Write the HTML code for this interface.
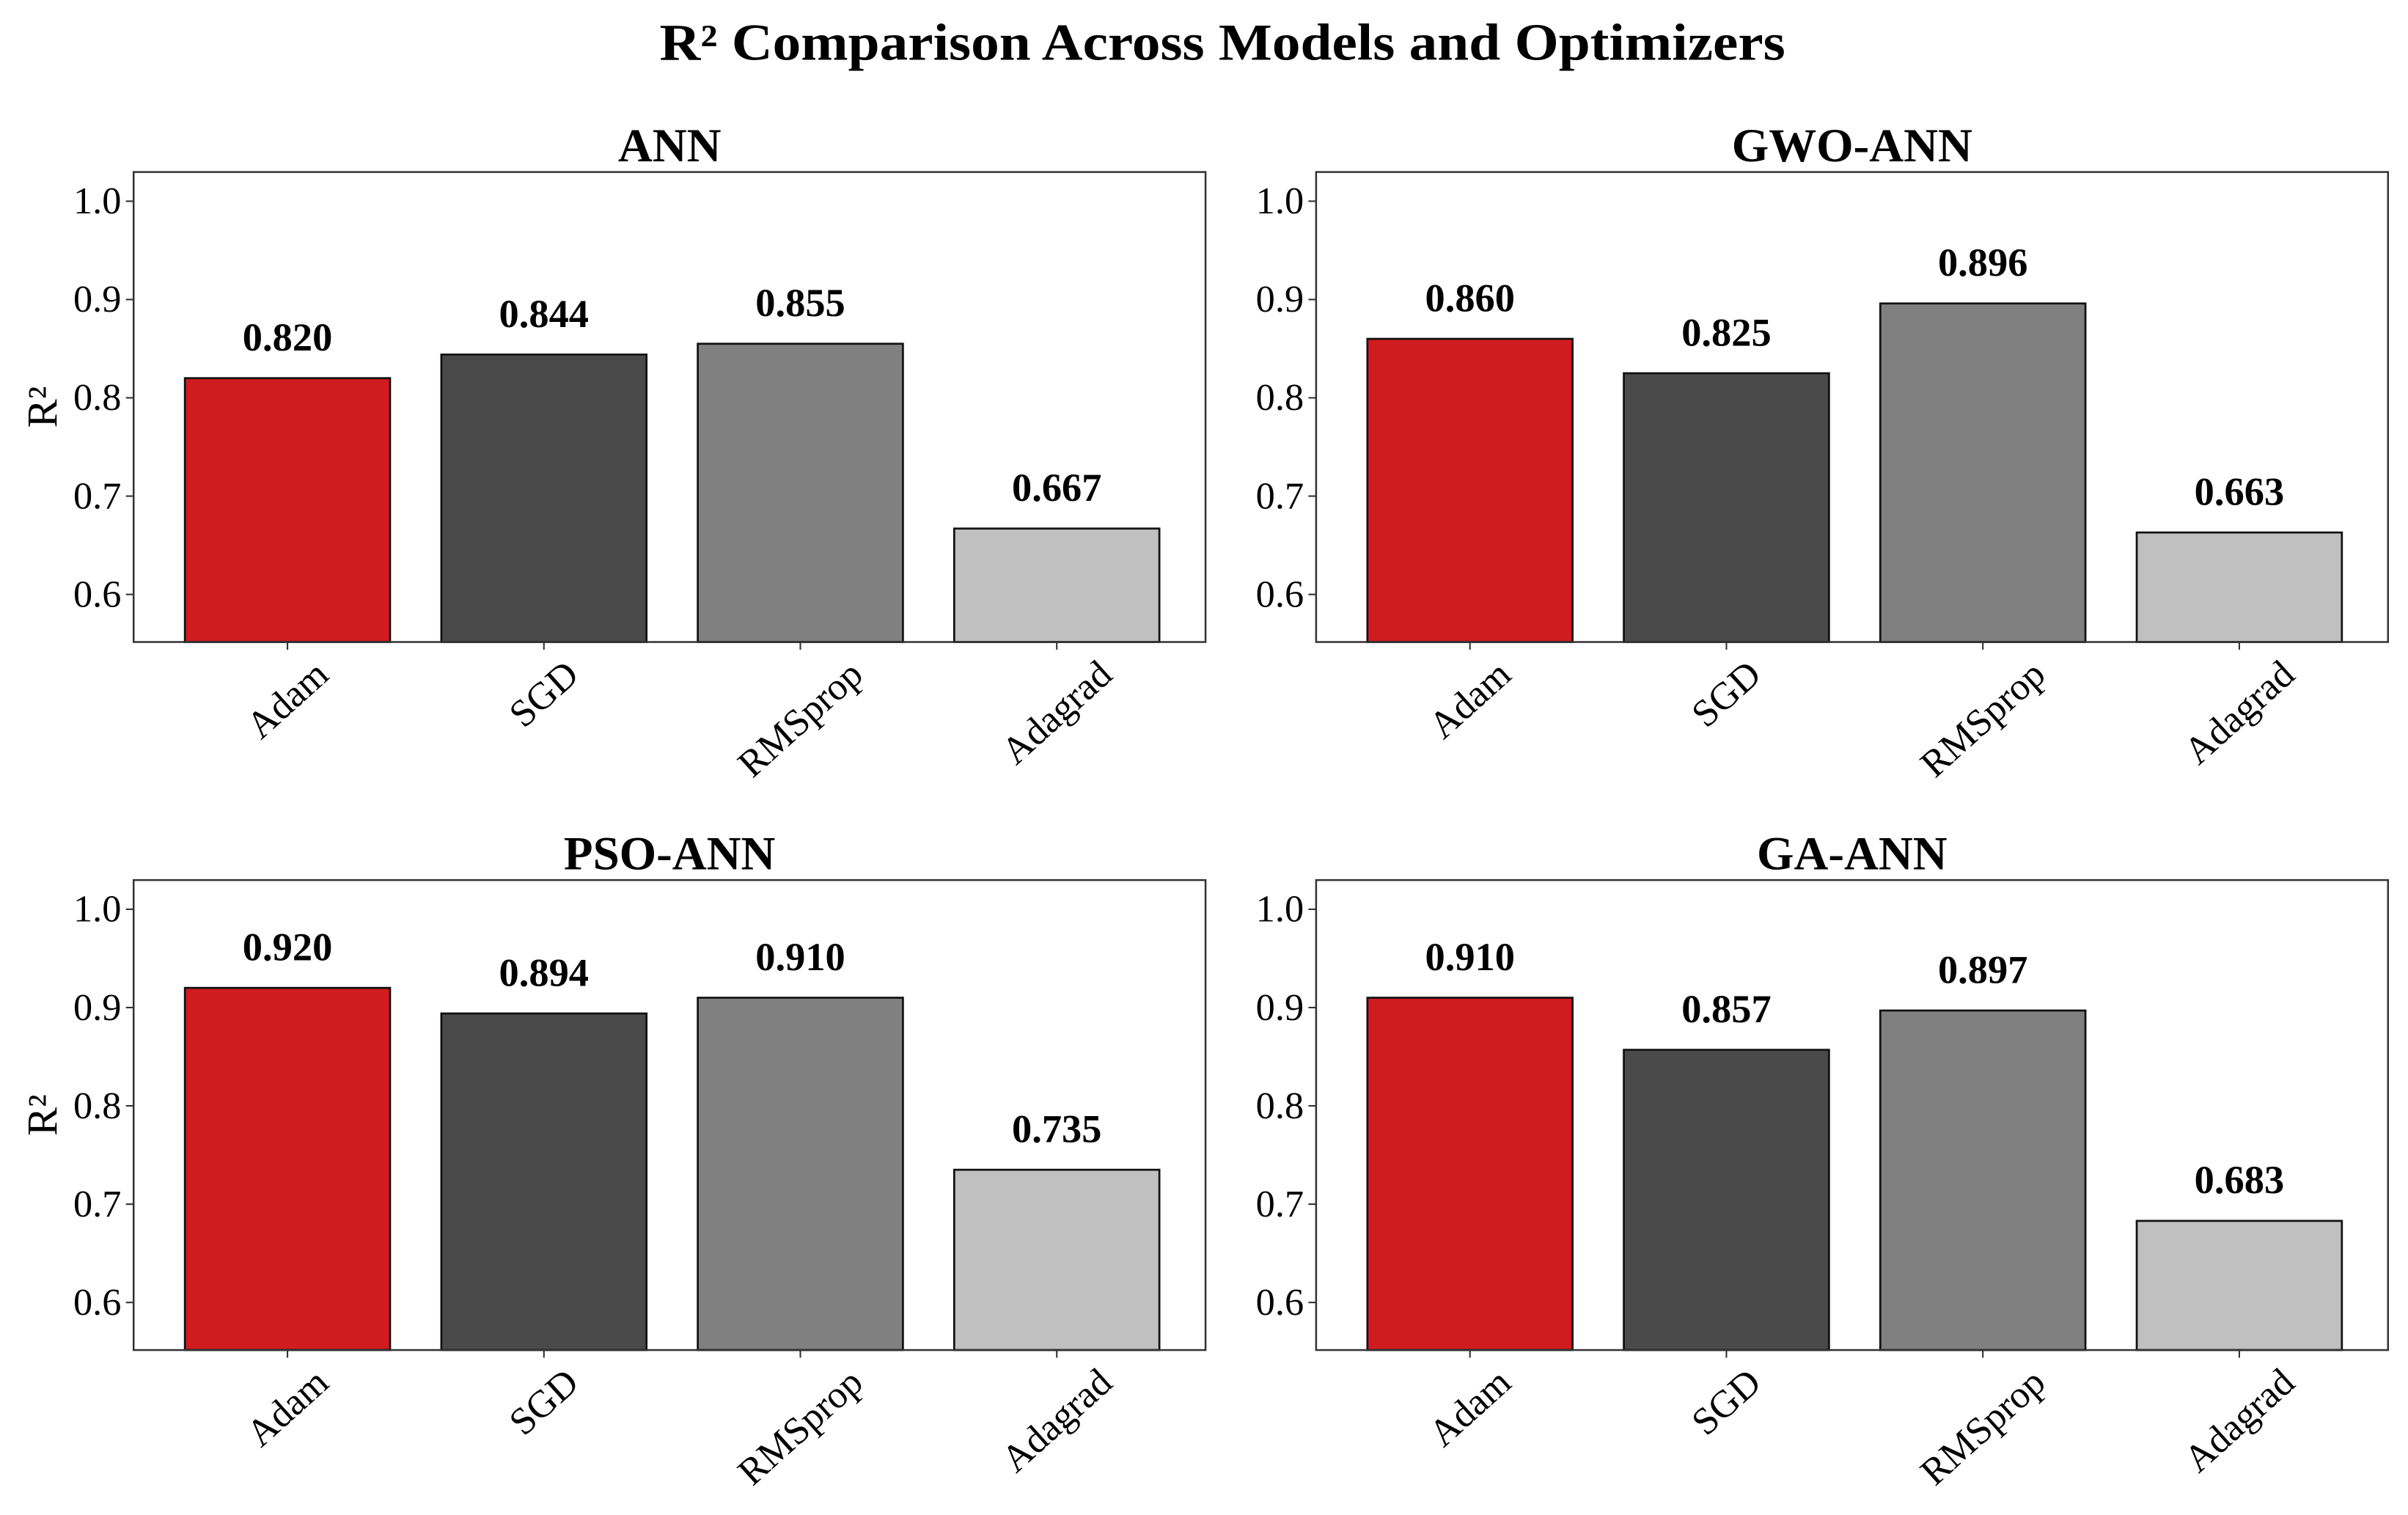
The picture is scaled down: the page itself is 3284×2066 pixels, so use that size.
<!DOCTYPE html>
<html><head><meta charset="utf-8"><style>
html,body{margin:0;padding:0;background:#fff;}
svg{display:block;font-family:"Liberation Serif","Times New Roman",serif;}
</style></head><body>
<svg id="chart" width="3284" height="2066" viewBox="0 0 1568 986.4" preserveAspectRatio="none" xmlns="http://www.w3.org/2000/svg">
<text x="796" y="39" text-anchor="middle" font-size="34" font-weight="bold" textLength="733" lengthAdjust="spacingAndGlyphs">R² Comparison Across Models and Optimizers</text>
</svg>
<script>
const categories = ["Adam","SGD","RMSprop","Adagrad"];
const panelTitles = ["ANN","GWO-ANN","PSO-ANN","GA-ANN"];
const annValues = [0.820,0.844,0.855,0.667];
const gwoValues = [0.860,0.825,0.896,0.663];
const psoValues = [0.920,0.894,0.910,0.735];
const gaValues = [0.910,0.857,0.897,0.683];
const yTicks = [0.6,0.7,0.8,0.9,1.0];
const yTickLabels = ["0.6","0.7","0.8","0.9","1.0"];

const colors = ["#d01c1f","#4a4a4a","#808080","#c0c0c0"];
const NS = "http://www.w3.org/2000/svg";
const svg = document.getElementById('chart');
const panels = [
  {x0:87,x1:785,y0:112,y1:418,vals:annValues,ylabel:true},
  {x0:857,x1:1555,y0:112,y1:418,vals:gwoValues,ylabel:false},
  {x0:87,x1:785,y0:573,y1:879,vals:psoValues,ylabel:true},
  {x0:857,x1:1555,y0:573,y1:879,vals:gaValues,ylabel:false}
];
const yMin = 0.5516, yMax = 1.0297, xMin = -0.6, xMax = 3.58;
function mk(tag, attrs, parent){const e=document.createElementNS(NS,tag);for(const k in attrs)e.setAttribute(k,attrs[k]);(parent||svg).appendChild(e);return e;}

panels.forEach((p,pi)=>{
  const g = mk('g',{});
  
  
  const sx = v => p.x0 + (v - xMin)/(xMax - xMin)*(p.x1 - p.x0);
  const sy = v => p.y1 - (v - yMin)/(yMax - yMin)*(p.y1 - p.y0);
  const t = mk('text',{x:(p.x0+p.x1)/2,y:p.y0-7,'text-anchor':'middle','font-size':31,'font-weight':'bold'},g);
  t.textContent = panelTitles[pi];
  
  
  p.vals.forEach((v,i)=>{
    const r = mk('rect',{x:sx(i-0.4),y:sy(v),width:sx(0.4)-sx(-0.4),height:sy(yMin)-sy(v),fill:colors[i],stroke:'#111','stroke-width':1.3},g);
    
    
    const lb = mk('text',{x:sx(i),y:sy(v)-18,'text-anchor':'middle','font-size':26,'font-weight':'bold'},g);
    lb.textContent = v.toFixed(3);
    
    
  });
  const fr = mk('rect',{x:p.x0,y:p.y0,width:p.x1-p.x0,height:p.y1-p.y0,fill:'none',stroke:'#333','stroke-width':1.2},g);
  
  
  yTicks.forEach((tv,i)=>{
    mk('line',{x1:p.x0-5,x2:p.x0,y1:sy(tv),y2:sy(tv),stroke:'#333','stroke-width':1},g);
    const tl = mk('text',{x:p.x0-8,y:sy(tv)+8,'text-anchor':'end','font-size':25},g);
    tl.textContent = yTickLabels[i];
    
    
  });
  categories.forEach((c,i)=>{
    mk('line',{x1:sx(i),x2:sx(i),y1:p.y1,y2:p.y1+5,stroke:'#333','stroke-width':1},g);
    const tl = mk('text',{'text-anchor':'middle','dominant-baseline':'central','font-size':25},g);
    tl.textContent = c;
    
    
    const w = tl.getComputedTextLength ? tl.getComputedTextLength() : c.length*12;
    const a = 42*Math.PI/180;
    const half = (w*Math.sin(a) + 22*Math.cos(a))/2;
    const cy = p.y1 + 9 + half;
    tl.setAttribute('transform','translate('+sx(i)+','+cy+') rotate(-42)');
  });
  if(p.ylabel){
    const yl = mk('text',{'text-anchor':'middle','font-size':28,transform:'translate(37,'+((p.y0+p.y1)/2)+') rotate(-90)'},g);
    yl.textContent = 'R²';
    
    
  }
});
</script>
</body></html>
